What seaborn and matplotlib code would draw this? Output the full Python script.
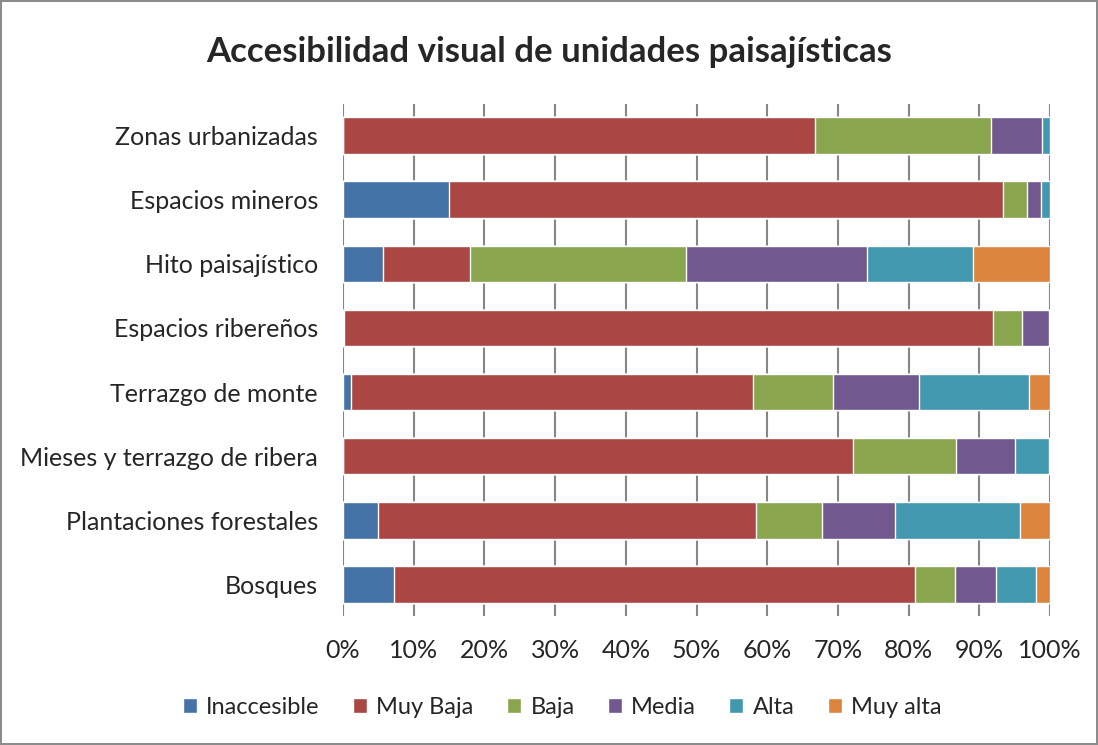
import seaborn as sns
import numpy as np
import pandas as pd
import matplotlib.pyplot as plt
from matplotlib.patches import Patch

sns.set_theme(style="white")
plt.rcParams['font.family'] = ['Lato', 'DejaVu Sans']

categories = ["Zonas urbanizadas", "Espacios mineros", "Hito paisajístico",
              "Espacios ribereños", "Terrazgo de monte",
              "Mieses y terrazgo de ribera", "Plantaciones forestales", "Bosques"]

series = ["Inaccesible", "Muy Baja", "Baja", "Media", "Alta", "Muy alta"]

inaccesible = [0.0, 15.0, 5.7, 0.2, 1.2, 0.0, 4.9, 7.2]
muy_baja = [66.7, 78.4, 12.2, 91.8, 56.8, 72.1, 53.5, 73.7]
baja = [25.0, 3.3, 30.6, 4.1, 11.3, 14.6, 9.4, 5.6]
media = [7.1, 2.0, 25.6, 3.8, 12.1, 8.3, 10.3, 5.8]
alta = [1.2, 1.3, 15.0, 0.1, 15.6, 4.8, 17.6, 5.7]
muy_alta = [0.0, 0.0, 10.9, 0.0, 3.0, 0.2, 4.3, 2.0]

colors = ["#4572A7", "#AA4643", "#89A54E", "#71588F", "#4198AF", "#DB843D"]

df = pd.DataFrame({"cat": categories, "Inaccesible": inaccesible,
                   "Muy Baja": muy_baja, "Baja": baja, "Media": media,
                   "Alta": alta, "Muy alta": muy_alta})
cum = df[series].cumsum(axis=1)

fig = plt.figure(figsize=(10.98, 7.45), dpi=100)
fig.patch.set_edgecolor("#8c8c8c")
fig.patch.set_linewidth(1.5)
ax = fig.add_axes([0.3124, 0.1726, 0.6439, 0.6884])

# stacked bars: draw cumulative totals from the last series back to the first
for name, col in reversed(list(zip(series, colors))):
    sns.barplot(x=cum[name], y=df["cat"], color=col, orient="h",
                width=0.57, saturation=1, ax=ax)

ax.set_xlim(0, 100)
ax.set_xticks(np.arange(0, 101, 10))
ax.set_xticklabels([f"{v}%" for v in range(0, 101, 10)], fontsize=18)
ax.tick_params(axis="y", labelsize=18, pad=12)
ax.tick_params(axis="x", pad=10)
ax.set_xlabel("")
ax.set_ylabel("")
ax.set_axisbelow(True)
ax.grid(axis="x", color="#868686", linewidth=1.5)
for s in ["top", "right", "bottom", "left"]:
    ax.spines[s].set_visible(False)

fig.suptitle("Accesibilidad visual de unidades paisajísticas",
             fontsize=25, fontweight="bold", y=0.952)

handles = [Patch(facecolor=c, label=n) for n, c in zip(series, colors)]
fig.legend(handles=handles, loc="center", bbox_to_anchor=(0.512, 0.05),
           ncol=6, frameon=False, fontsize=17, handlelength=0.6,
           handleheight=0.6, handletextpad=0.4, columnspacing=1.4)

fig.savefig("out.png", dpi=100, edgecolor=fig.get_edgecolor())
